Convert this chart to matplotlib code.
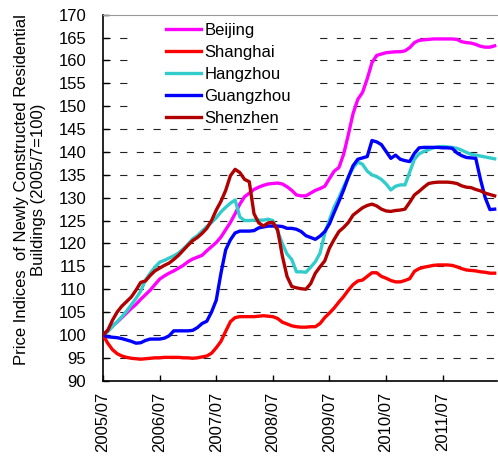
import matplotlib
matplotlib.use("Agg")
import matplotlib.pyplot as plt
from matplotlib.patches import Rectangle
import numpy as np

plt.rcParams['font.family'] = ['Liberation Sans', 'DejaVu Sans']

# monthly index values, 2005/07 = 100
beijing = [100.0, 101.0, 102.0, 102.8, 103.8, 104.8, 105.8, 106.7, 107.8, 108.8,
           109.8, 111.0, 112.2, 112.9, 113.5, 114.0, 114.6, 115.2, 116.0, 116.6,
           117.0, 117.4, 118.4, 119.3, 120.2, 121.4, 123.0, 124.6, 126.5, 128.6,
           130.2, 131.0, 131.8, 132.3, 132.7, 133.0, 133.1, 133.2, 133.0, 132.4,
           131.6, 130.6, 130.4, 130.4, 131.0, 131.6, 132.0, 132.5, 134.2, 135.8,
           136.6, 139.5, 143.8, 148.4, 151.5, 153.0, 156.0, 159.5, 161.1, 161.4,
           161.7, 161.8, 161.9, 161.9, 162.1, 162.8, 163.9, 164.4, 164.5, 164.6,
           164.7, 164.7, 164.7, 164.7, 164.7, 164.6, 164.1, 163.9, 163.8, 163.5,
           163.1, 162.9, 162.9, 163.2]
shanghai = [100.0, 98.2, 96.8, 95.9, 95.4, 95.1, 94.9, 94.8, 94.7, 94.8,
            94.9, 95.0, 95.0, 95.1, 95.1, 95.1, 95.1, 95.0, 95.0, 94.9,
            95.0, 95.2, 95.4, 96.0, 97.2, 98.6, 100.8, 102.9, 103.8, 104.0,
            104.0, 104.0, 104.0, 104.1, 104.2, 104.1, 104.0, 103.6, 102.8, 102.4,
            102.0, 101.8, 101.7, 101.7, 101.8, 101.8, 102.5, 103.8, 104.8, 105.9,
            107.2, 108.4, 109.8, 111.0, 111.8, 112.0, 112.8, 113.6, 113.6, 112.8,
            112.4, 111.9, 111.6, 111.6, 111.9, 112.3, 113.9, 114.5, 114.8, 115.0,
            115.2, 115.3, 115.3, 115.3, 115.2, 114.9, 114.5, 114.2, 114.1, 114.0,
            113.8, 113.7, 113.5, 113.5]
hangzhou = [100.0, 100.7, 101.8, 102.9, 104.0, 105.2, 106.6, 108.0, 109.6, 112.0,
            113.5, 114.8, 115.9, 116.3, 116.8, 117.3, 117.9, 118.8, 119.8, 121.0,
            121.7, 122.7, 123.7, 124.6, 125.6, 126.9, 127.9, 128.8, 129.5, 125.8,
            125.0, 125.0, 125.1, 125.1, 125.1, 125.3, 125.0, 122.7, 120.0, 117.7,
            116.5, 113.8, 113.8, 113.7, 114.8, 116.0, 117.9, 122.2, 125.2, 128.0,
            130.0, 132.4, 134.5, 136.5, 137.8, 137.3, 135.8, 135.0, 134.6, 134.0,
            133.0, 131.7, 132.5, 132.8, 132.8, 135.6, 138.4, 139.6, 140.1, 140.5,
            140.9, 141.1, 141.2, 141.1, 141.0, 140.8, 140.4, 139.9, 139.5, 139.3,
            139.1, 138.9, 138.7, 138.5]
guangzhou = [100.0, 99.6, 99.5, 99.4, 99.2, 98.9, 98.6, 98.2, 98.3, 98.8,
             99.1, 99.1, 99.1, 99.3, 99.8, 100.9, 100.9, 100.9, 100.9, 101.0,
             101.6, 102.5, 103.0, 105.0, 107.6, 113.5, 118.6, 120.8, 122.3, 122.7,
             122.7, 122.7, 122.8, 123.4, 123.6, 123.8, 123.8, 123.8, 123.7, 123.3,
             123.3, 123.1, 122.6, 121.7, 121.3, 120.9, 121.6, 122.6, 124.3, 126.8,
             129.2, 131.7, 134.5, 137.0, 138.4, 138.7, 139.0, 142.5, 142.2, 141.6,
             140.1, 138.6, 139.3, 138.4, 138.1, 137.9, 139.7, 140.9, 141.0, 141.0,
             141.0, 141.0, 140.9, 140.9, 140.8, 139.8, 139.2, 138.8, 138.7, 138.6,
             134.0, 130.0, 127.4, 127.5]
shenzhen = [100.0, 101.0, 103.2, 105.0, 106.3, 107.3, 108.3, 109.8, 111.5, 111.8,
            113.0, 114.0, 114.6, 115.2, 115.7, 116.5, 117.4, 118.5, 119.6, 120.6,
            121.3, 122.2, 123.3, 125.0, 127.3, 129.2, 131.6, 134.8, 136.2, 135.5,
            134.0, 133.5, 126.5, 124.5, 123.8, 124.5, 124.6, 123.0, 117.3, 112.8,
            110.6, 110.3, 110.1, 110.0, 111.2, 113.5, 114.9, 116.2, 119.0, 120.9,
            122.6, 123.5, 124.6, 126.2, 127.0, 127.8, 128.3, 128.6, 128.2, 127.5,
            127.1, 127.0, 127.2, 127.3, 127.5, 129.0, 130.6, 131.4, 132.3, 133.1,
            133.3, 133.4, 133.4, 133.4, 133.3, 133.1, 132.6, 132.3, 132.2, 131.8,
            131.5, 131.0, 130.7, 130.4]

city_names = ['Beijing', 'Shanghai', 'Hangzhou', 'Guangzhou', 'Shenzhen']
year_labels = ['2005/07', '2006/07', '2007/07', '2008/07',
               '2009/07', '2010/07', '2011/07']

series = [beijing, shanghai, hangzhou, guangzhou, shenzhen]
colors = ['#FF00FF', '#FF0000', '#33CCCC', '#0000FF', '#B00000']
months = np.arange(len(beijing))

fig = plt.figure(figsize=(4.98, 4.57), dpi=100)
ax = fig.add_axes([103 / 498, 1 - 380.7 / 457, 394 / 498, 366 / 457])

# dashed horizontal grid
for v in range(95, 170, 5):
    ax.axhline(v, color='#222222', lw=0.8, dashes=(6.5, 8.5), zorder=1)

# blank area behind the legend
ax.add_patch(Rectangle((0.076, 0.695), 0.467, 0.31, transform=ax.transAxes,
                       facecolor='white', edgecolor='none', zorder=2))

for name, vals, c in zip(city_names, series, colors):
    ax.plot(months, vals, color=c, lw=2.4, label=name, zorder=3,
            solid_joinstyle='round')

ax.set_xlim(0, 83.5)
ax.set_ylim(90, 170)
ax.set_yticks(range(90, 171, 5))
ax.set_xticks(np.arange(len(year_labels)) * 12)
ax.set_xticklabels(year_labels, rotation=90)

ax.tick_params(axis='both', direction='in', labelsize=12, width=1)
ax.tick_params(axis='y', length=4, pad=12)
ax.tick_params(axis='x', length=4, pad=8)

ax.spines['right'].set_visible(False)
ax.spines['top'].set_color('#999999')
ax.spines['left'].set_linewidth(1.2)
ax.spines['bottom'].set_linewidth(1.2)

fig.text(30 / 498, 1 - 190 / 457,
         'Price Indices  of Newly Constructed Residential\nBuildings (2005/7=100)',
         rotation=90, ha='center', va='center', multialignment='center',
         fontsize=12, linespacing=1.15)

ax.legend(loc='upper left', bbox_to_anchor=(0.16, 0.978), frameon=False,
          fontsize=12, handlelength=2.1, handletextpad=0.2, labelspacing=0.42,
          borderpad=0, borderaxespad=0)

fig.savefig('out.png', dpi=100)
